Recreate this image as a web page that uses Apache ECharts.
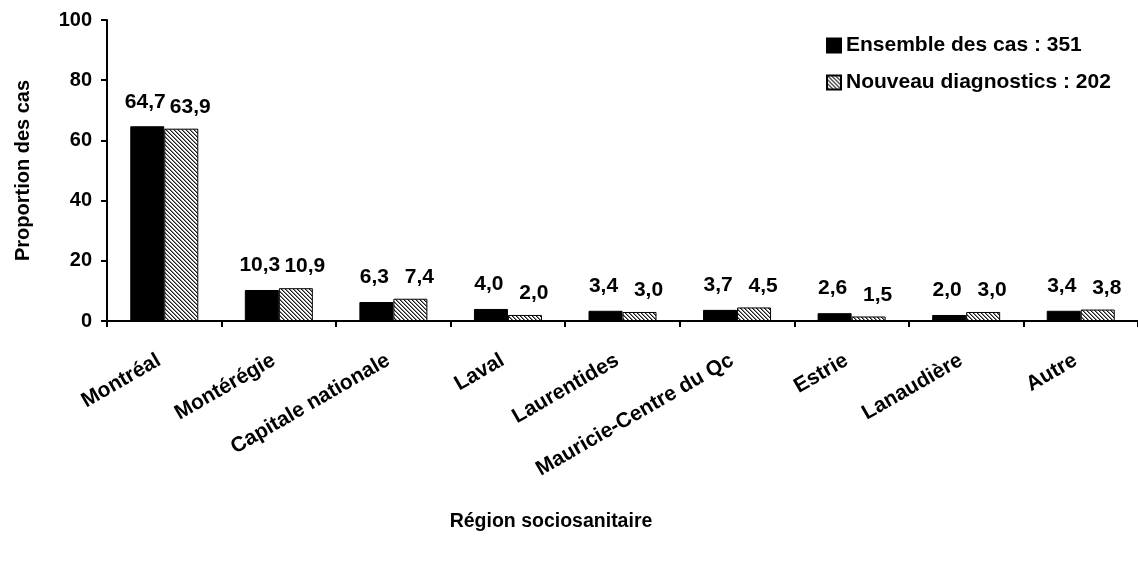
<!DOCTYPE html>
<html>
<head>
<meta charset="utf-8">
<script src="https://cdn.jsdelivr.net/npm/echarts@6/dist/echarts.min.js"></script>
<style>
  html, body { margin: 0; padding: 0; background: #ffffff; }
  #chart { width: 1138px; height: 563px; }
</style>
</head>
<body>
<div id="chart"></div>
<script>
// Régions sociosanitaires et proportion des cas (%)
const regions = ['Montréal', 'Montérégie', 'Capitale nationale', 'Laval', 'Laurentides',
                 'Mauricie-Centre du Qc', 'Estrie', 'Lanaudière', 'Autre'];
const ensembleCas = [64.7, 10.3, 6.3, 4.0, 3.4, 3.7, 2.6, 2.0, 3.4];
const nouveauxDiagnostics = [63.9, 10.9, 7.4, 2.0, 3.0, 4.5, 1.5, 3.0, 3.8];
const seriesNames = ['Ensemble des cas : 351', 'Nouveau diagnostics : 202'];
const yTicks = [0, 20, 40, 60, 80, 100];

const FONT = 'Arial, "Liberation Sans", sans-serif';

// Diagonal hatch tile for the second series
function hatchTile() {
  const c = document.createElement('canvas');
  c.width = 4; c.height = 4;
  const g = c.getContext('2d');
  g.fillStyle = '#ffffff';
  g.fillRect(0, 0, 4, 4);
  for (let i = 0; i < 4; i++) {
    g.fillStyle = '#1a1a1a';
    g.fillRect(i, i, 1, 1);
    g.fillStyle = '#8a8a8a';
    g.fillRect((i + 1) % 4, i, 1, 1);
  }
  return c;
}

const fmt = p => p.value.toFixed(1).replace('.', ',');

const chart = echarts.init(document.getElementById('chart'), null, { renderer: 'canvas' });

chart.setOption({
  animation: false,
  backgroundColor: '#ffffff',
  textStyle: { fontFamily: FONT },
  grid: { left: 107, top: 20, height: 301, width: 1034, containLabel: false },
  legend: {
    orient: 'vertical',
    left: 821,
    top: 30,
    itemWidth: 14,
    itemHeight: 14,
    itemGap: 16,
    itemTextGap: 5,
    icon: 'rect',
    textStyle: { fontFamily: FONT, fontWeight: 'bold', fontSize: 21, color: '#000' },
    data: seriesNames
  },
  graphic: [{
    type: 'text',
    x: 551,
    y: 522,
    style: {
      text: 'Région sociosanitaire',
      font: 'bold 19.5px ' + FONT,
      fill: '#000',
      textAlign: 'center',
      textVerticalAlign: 'middle'
    }
  }],
  xAxis: {
    type: 'category',
    data: regions,
    boundaryGap: true,
    axisLine: { lineStyle: { color: '#000', width: 2 } },
    axisTick: { show: true, alignWithLabel: false, length: 6, lineStyle: { color: '#000', width: 2 } },
    axisLabel: {
      rotate: 30,
      margin: 35,
      interval: 0,
      padding: [0, 6, 0, 0],
      color: '#000',
      fontFamily: FONT,
      fontWeight: 'bold',
      fontSize: 21
    }
  },
  yAxis: {
    type: 'value',
    min: yTicks[0],
    max: yTicks[yTicks.length - 1],
    interval: 20,
    name: 'Proportion des cas',
    nameLocation: 'middle',
    nameGap: 74,
    nameTextStyle: { fontFamily: FONT, fontWeight: 'bold', fontSize: 20, color: '#000' },
    axisLine: { show: true, lineStyle: { color: '#000', width: 2 } },
    axisTick: { show: true, length: 6, lineStyle: { color: '#000', width: 2 } },
    splitLine: { show: false },
    axisLabel: {
      margin: 15,
      color: '#000',
      fontFamily: FONT,
      fontWeight: 'bold',
      fontSize: 20
    }
  },
  series: [
    {
      name: seriesNames[0],
      type: 'bar',
      data: ensembleCas,
      barWidth: 34,
      barGap: '0%',
      itemStyle: { color: '#000000', borderColor: '#000', borderWidth: 1 },
      label: {
        show: true,
        position: 'top',
        distance: 14,
        offset: [-2, 0],
        formatter: fmt,
        color: '#000',
        fontFamily: FONT,
        fontWeight: 'bold',
        fontSize: 21
      }
    },
    {
      name: seriesNames[1],
      type: 'bar',
      data: nouveauxDiagnostics,
      barWidth: 34,
      barGap: '0%',
      itemStyle: {
        color: { image: hatchTile(), repeat: 'repeat' },
        borderColor: '#000',
        borderWidth: 1
      },
      label: {
        show: true,
        position: 'top',
        distance: 11,
        offset: [9, 0],
        formatter: fmt,
        color: '#000',
        fontFamily: FONT,
        fontWeight: 'bold',
        fontSize: 21
      }
    }
  ]
});
</script>
</body>
</html>
